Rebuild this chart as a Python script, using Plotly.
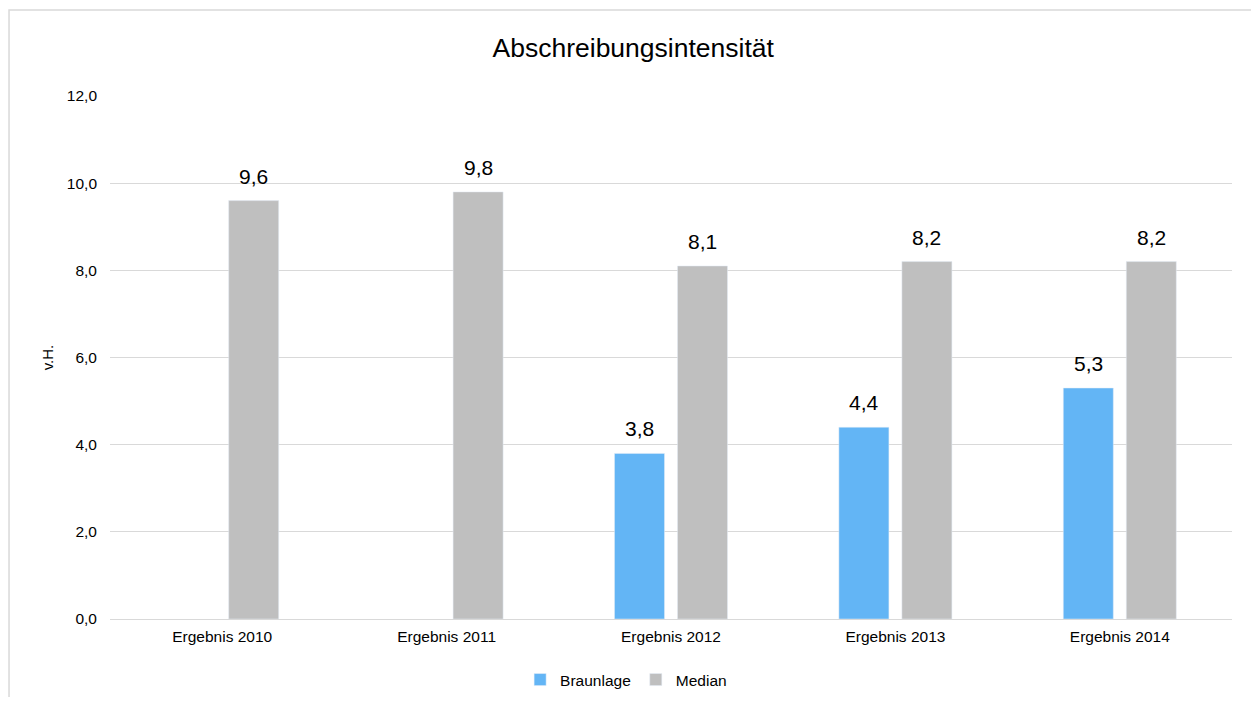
import plotly.graph_objects as go

categories = ["Ergebnis 2010", "Ergebnis 2011", "Ergebnis 2012", "Ergebnis 2013", "Ergebnis 2014"]
braunlage = [None, None, 3.8, 4.4, 5.3]
median = [9.6, 9.8, 8.1, 8.2, 8.2]

BLUE = "#63b5f5"
GRAY = "#bfbfbf"

def fmt(v):
    return f"{v:.1f}".replace(".", ",")

fig = go.Figure()
fig.add_trace(go.Bar(x=categories, y=braunlage, name="Braunlage", marker=dict(color=BLUE)))
fig.add_trace(go.Bar(x=categories, y=median, name="Median", marker=dict(color=GRAY)))

annotations = []
for series, shift in ((braunlage, -31.5), (median, 31.5)):
    for cat, v in zip(categories, series):
        if v is None:
            continue
        annotations.append(dict(x=cat, y=v, xref="x", yref="y", text=fmt(v), showarrow=False,
                                xshift=shift, yshift=11, yanchor="bottom", xanchor="center",
                                font=dict(size=21, color="#000000")))

fig.update_layout(
    width=1243, height=689,
    margin=dict(l=102, r=19, t=88, b=78),
    paper_bgcolor="white", plot_bgcolor="white",
    font=dict(family="Liberation Sans, Arial, sans-serif", size=15, color="#000000"),
    separators=",.",
    title=dict(text="Abschreibungsintensität", x=0.503, xanchor="center", y=0.942, yanchor="middle",
               font=dict(size=26.5, color="#000000")),
    barmode="group", bargap=0.4385, bargroupgap=0.206,
    showlegend=True,
    legend=dict(orientation="h", xref="paper", x=0.46, xanchor="center",
                yref="container", y=0.0247, yanchor="middle",
                font=dict(size=15.5), itemwidth=30, traceorder="normal"),
    xaxis=dict(showgrid=False, showline=False, ticks="", tickfont=dict(size=15.5),
               ticklabelstandoff=6),
    yaxis=dict(range=[0, 12], dtick=2, tickformat=".1f", showgrid=True, gridcolor="#d9d9d9",
               gridwidth=1, zeroline=True, zerolinecolor="#d9d9d9", zerolinewidth=1,
               showline=False, ticks="", tickfont=dict(size=15.5), ticklabelstandoff=12,
               title=dict(text="v.H.", font=dict(size=15), standoff=9)),
    annotations=annotations,
    shapes=[dict(type="rect", xref="paper", yref="paper", x0=-0.09, x1=1.05, y0=-0.3, y1=1.1644,
                 line=dict(color="#d9d9d9", width=1.5), fillcolor="rgba(0,0,0,0)", layer="below")],
)

fig.write_html("out.html")
